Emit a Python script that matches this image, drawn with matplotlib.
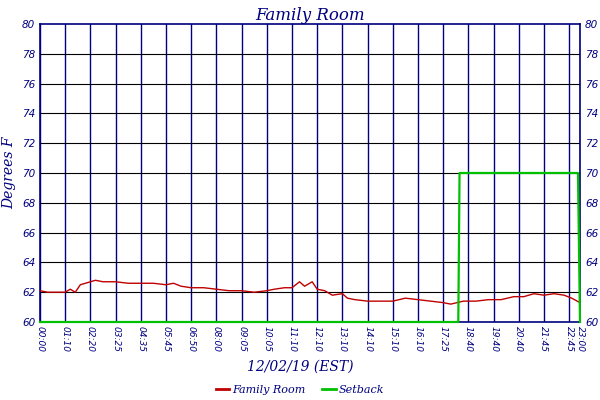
import matplotlib
matplotlib.use("Agg")
import matplotlib.pyplot as plt
from matplotlib.lines import Line2D

tick_labels = ["00:00","01:10","02:20","03:25","04:35","05:45","06:50","08:00","09:05","10:05",
               "11:10","12:10","13:10","14:10","15:10","16:10","17:25","18:40","19:40","20:40",
               "21:45","22:45","23:00"]
tick_pos = list(range(22)) + [21.43]

room_x = [0,0.3,0.6,1,1.2,1.4,1.6,2,2.2,2.5,3,3.5,4,4.5,5,5.3,5.6,6,6.5,7,7.5,8,8.5,9,9.3,9.7,10,10.3,10.5,10.8,11,11.3,11.6,12,12.2,12.5,13,13.5,14,14.5,15,15.5,16,16.3,16.8,17.3,17.8,18.3,18.8,19.2,19.6,20,20.4,20.8,21.1,21.43]
room_y = [62.1,62.0,62.0,62.0,62.2,62.0,62.5,62.7,62.8,62.7,62.7,62.6,62.6,62.6,62.5,62.6,62.4,62.3,62.3,62.2,62.1,62.1,62.0,62.1,62.2,62.3,62.3,62.7,62.4,62.7,62.2,62.1,61.8,61.9,61.6,61.5,61.4,61.4,61.4,61.6,61.5,61.4,61.3,61.2,61.4,61.4,61.5,61.5,61.7,61.7,61.9,61.8,61.9,61.8,61.6,61.3]

set_x = [0,16.6,16.65,21.35,21.43]
set_y = [60,60,70,70,60]

navy = "#000080"
fig = plt.figure(figsize=(6,4), dpi=100)
ax = fig.add_axes([40/600, 1-322/400, 540/600, 298/400])
ax.plot(set_x, set_y, color="#00c000", lw=1.6, zorder=5, clip_on=False)
ax.plot(room_x, room_y, color="#c00000", lw=1, zorder=4)
ax.set_xlim(0, 21.43)
ax.set_ylim(60, 80)
ax.set_xticks(tick_pos)
ax.set_xticklabels(tick_labels, rotation=270, fontsize=6.5, color=navy, style="italic")
ax.set_yticks(range(60, 81, 2))
ax.tick_params(axis="y", labelsize=7.5, colors=navy, length=0, labelright=True)
ax.tick_params(axis="x", length=0, colors=navy, pad=3)
for lab in ax.get_yticklabels():
    lab.set_style("italic")
for p in tick_pos:
    ax.axvline(p, color=navy, lw=1, zorder=1)
for v in range(62, 80, 2):
    ax.axhline(v, color="black", lw=0.8, zorder=1)
for s in ax.spines.values():
    s.set_color(navy); s.set_linewidth(1.2)
ax.set_ylabel("Degrees F", color=navy, fontsize=10, style="italic", family="DejaVu Serif")
ax.set_title("Family Room", color=navy, fontsize=12, style="italic", family="DejaVu Serif", pad=3)
fig.text(0.5, 1-367/400, "12/02/19 (EST)", ha="center", va="center", color=navy, fontsize=10,
         style="italic", family="DejaVu Serif")
h = [Line2D([], [], color="#c00000", lw=2), Line2D([], [], color="#00c000", lw=2)]
leg = fig.legend(h, ["Family Room", "Setback"], loc="center", bbox_to_anchor=(0.5, 1-390/400), ncol=2,
                 frameon=False, fontsize=8, handlelength=1.2, handletextpad=0.3, columnspacing=1.5,
                 borderpad=0)
for t in leg.get_texts():
    t.set_color(navy); t.set_style("italic"); t.set_family("DejaVu Serif")
fig.savefig("out.png")
